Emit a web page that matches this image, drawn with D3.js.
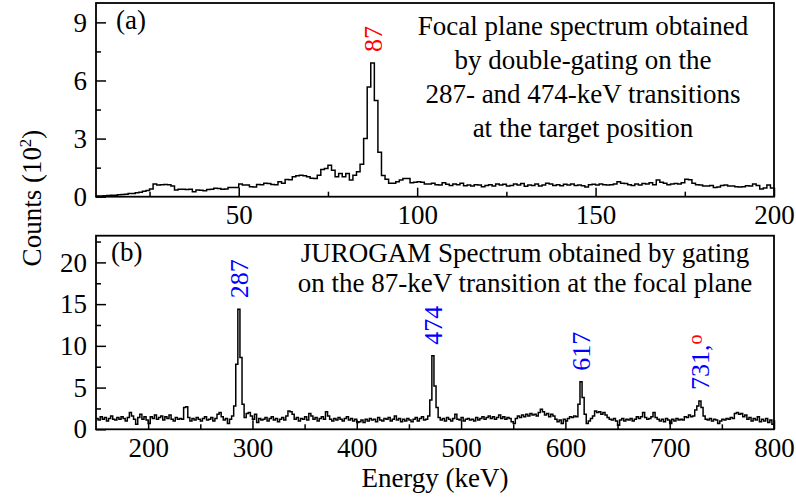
<!DOCTYPE html>
<html>
<head>
<meta charset="utf-8">
<script src="https://cdn.jsdelivr.net/npm/d3@7"></script>
<style>
  body { margin: 0; background: #fff; }
  svg { display: block; font-family: "Liberation Serif", "Times New Roman", serif; }
</style>
</head>
<body>
<div id="chart"></div>
<script>
// (a) focal plane spectrum: 1-keV bins from 10 keV, counts in units of 10^2
const fpStart = 10;
const fpBin = 1;
const fpCounts = [
  0.03, 0.04, 0.05, 0.06, 0.07, 0.08, 0.1, 0.11, 0.13, 0.16,
  0.17, 0.2, 0.23, 0.28, 0.32, 0.4, 0.66, 0.6, 0.62, 0.63,
  0.62, 0.55, 0.34, 0.38, 0.38, 0.37, 0.38, 0.26, 0.34, 0.33,
  0.31, 0.37, 0.38, 0.43, 0.42, 0.39, 0.4, 0.48, 0.47, 0.48,
  0.65, 0.6, 0.6, 0.52, 0.5, 0.63, 0.62, 0.69, 0.68, 0.63,
  0.62, 0.77, 0.7, 0.89, 0.88, 1.03, 1.08, 1.11, 1.08, 1.03,
  0.95, 0.94, 1.11, 1.4, 1.46, 1.63, 1.37, 1.03, 1.2, 1.03,
  1.2, 0.86, 1.11, 1.29, 1.68, 3.0, 5.66, 6.9, 4.97, 2.3,
  1.1, 0.9, 0.7, 0.69, 0.77, 0.86, 0.94, 0.94, 0.72, 0.75,
  0.77, 0.74, 0.65, 0.66, 0.7, 0.62, 0.6, 0.72, 0.64, 0.58,
  0.66, 0.62, 0.7, 0.56, 0.6, 0.55, 0.62, 0.6, 0.52, 0.58,
  0.62, 0.55, 0.66, 0.6, 0.64, 0.55, 0.58, 0.66, 0.6, 0.68,
  0.54, 0.6, 0.58, 0.65, 0.55, 0.6, 0.7, 0.66, 0.58, 0.62,
  0.56, 0.64, 0.6, 0.66, 0.58, 0.6, 0.56, 0.5, 0.62, 0.64,
  0.6, 0.65, 0.62, 0.6, 0.62, 0.65, 0.77, 0.7, 0.68, 0.62,
  0.58, 0.66, 0.6, 0.68, 0.66, 0.72, 0.62, 0.86, 0.75, 0.7,
  0.62, 0.66, 0.68, 0.66, 0.72, 0.9, 0.88, 0.7, 0.62, 0.6,
  0.55, 0.55, 0.58, 0.48, 0.5, 0.58, 0.6, 0.55, 0.55, 0.52,
  0.5, 0.52, 0.56, 0.55, 0.66, 0.58, 0.4, 0.45, 0.6, 0.45
];
const fpXDomain = [10, 200];
const fpYDomain = [0, 10];
const fpXTicks = [50, 100, 150, 200];
const fpXMinor = [25, 75, 125, 175];
const fpYTicks = [0, 3, 6, 9];
const fpYMinor = [1.5, 4.5, 7.5];
const fpPeaks = [{ label: "87", energy: 87, color: "#ff0000" }];
const fpNote = [
  "Focal plane spectrum obtained",
  "by double-gating on the",
  "287- and 474-keV transitions",
  "at the target position"
];

// (b) JUROGAM spectrum: 2-keV bins from 150 keV
const jgStart = 150;
const jgBin = 2;
const jgCounts = [
  1.3, 1.1, 1.5, 1.2, 1.4, 1.0, 1.3, 1.6, 1.2, 1.1,
  1.4, 1.2, 1.5, 1.3, 1.0, 1.4, 2.0, 1.6, 1.2, 0.6,
  1.4, 1.8, 1.2, 1.5, 1.1, 0.7, 1.5, 1.3, 1.7, 1.2,
  1.4, 1.6, 1.1, 1.5, 1.3, 1.7, 1.2, 1.0, 1.4, 1.2,
  1.3, 1.2, 2.6, 2.7, 1.4, 1.0, 1.3, 1.1, 1.4, 1.2,
  1.0, 1.3, 1.5, 1.1, 1.2, 1.4, 1.0, 1.3, 1.8, 2.0,
  1.5, 1.1, 1.3, 0.7, 1.2, 1.6, 2.8, 7.8, 14.4, 8.6,
  3.0, 1.4, 1.9, 2.0, 1.6, 1.2, 1.8, 0.8, 1.3, 1.1,
  1.2, 1.4, 1.0, 1.3, 1.5, 1.1, 1.3, 0.9, 1.2, 1.4,
  1.1, 1.6, 2.2, 2.1, 1.8, 1.2, 1.4, 1.0, 1.3, 1.2,
  1.5, 1.1, 1.9, 1.6, 1.2, 1.4, 1.0, 1.3, 1.5, 1.2,
  2.1, 1.6, 1.2, 1.0, 1.3, 1.1, 1.4, 1.2, 1.0, 1.3,
  1.5, 1.1, 1.3, 1.0, 1.2, 0.8, 0.9, 1.1, 0.8, 1.2,
  1.0, 1.3, 1.1, 1.2, 0.9, 1.4, 1.1, 1.0, 1.3, 1.2,
  1.4, 1.0, 1.2, 1.6, 1.1, 1.3, 0.9, 1.2, 1.0, 1.3,
  1.1, 0.9, 1.2, 1.4, 1.0, 1.3, 1.5, 1.1, 1.2, 1.6,
  3.5, 8.8, 5.2, 2.6, 1.4, 1.1, 1.3, 1.0, 1.4, 1.2,
  1.0, 1.3, 1.8, 1.2, 1.1, 1.4, 1.0, 1.2, 1.3, 1.1,
  1.2, 1.0, 1.4, 1.1, 1.3, 1.5, 1.2, 1.4, 1.6, 1.3,
  1.5, 1.2, 1.4, 1.7, 1.3, 1.5, 1.2, 1.4, 1.3, 0.9,
  0.7, 1.3, 1.6, 1.4, 1.7, 1.5, 1.8, 1.6, 1.9, 1.7,
  1.8, 1.6, 2.0, 2.4, 2.1, 1.7, 1.9, 1.5, 1.8, 1.6,
  1.2, 0.9, 1.1, 0.7, 1.2, 1.0, 1.3, 1.5, 1.4, 1.6,
  1.5, 3.0, 5.7, 3.8, 1.8, 0.7, 1.0, 1.3, 1.6, 2.2,
  2.0, 2.1, 1.8, 2.0, 1.7, 1.4, 1.2, 1.1, 1.3, 1.0,
  0.5, 1.1, 1.3, 1.0, 1.2, 1.1, 1.3, 1.0, 1.2, 1.5,
  1.3, 1.5, 2.0, 1.4, 1.2, 1.3, 1.5, 2.0, 1.4, 1.2,
  1.0, 1.2, 0.9, 1.3, 1.1, 0.7, 1.2, 1.0, 1.3, 1.1,
  1.2, 1.1, 1.5, 1.4, 1.7, 1.5, 1.6, 2.3, 2.8, 3.4,
  2.6, 1.6, 1.2, 1.1, 1.3, 1.0, 1.2, 1.1, 0.7, 1.0,
  1.2, 1.1, 1.3, 1.2, 1.4, 1.3, 1.9, 2.0, 1.8, 1.9,
  1.5, 1.7, 1.2, 1.4, 1.0, 1.3, 1.1, 1.5, 0.9, 1.2,
  1.0, 1.3, 0.8, 1.1, 0.6
];
const jgXDomain = [150, 800];
const jgYDomain = [0, 23.2];
const jgXTicks = [200, 300, 400, 500, 600, 700, 800];
const jgXMinor = [250, 350, 450, 550, 650, 750];
const jgYTicks = [0, 5, 10, 15, 20];
const jgYMinor = [2.5, 7.5, 12.5, 17.5, 22.5];
const jgPeaks = [
  { label: "287", energy: 287, color: "#0000ff" },
  { label: "474", energy: 474, color: "#0000ff" },
  { label: "617", energy: 617, color: "#0000ff" },
  { label: "731,", energy: 731, color: "#0000ff", mark: "o" }
];
const jgNote = [
  "JUROGAM Spectrum obtained by gating",
  "on the 87-keV transition at the focal plane"
];

const width = 796, height = 497;
const fontSize = 27;

const svg = d3.select("#chart").append("svg")
  .attr("width", width)
  .attr("height", height);

function drawPanel(p) {
  const x = d3.scaleLinear().domain(p.xDomain).range([96, 774]);
  const y = d3.scaleLinear().domain(p.yDomain).range([p.bottom, p.top]);
  const g = svg.append("g");

  // clip the spectrum to the frame
  g.append("clipPath").attr("id", p.id + "-clip")
    .append("rect")
    .attr("x", 96).attr("y", p.top)
    .attr("width", 678).attr("height", p.bottom - p.top);

  // step histogram, one point per bin edge
  const pts = p.counts.map((v, i) => [p.start + i * p.bin, v]);
  pts.push([p.start + p.counts.length * p.bin, p.counts[p.counts.length - 1]]);
  const line = d3.line()
    .x(d => x(d[0]))
    .y(d => y(d[1]))
    .curve(d3.curveStepAfter);

  g.append("path")
    .attr("d", line(pts))
    .attr("clip-path", `url(#${p.id}-clip)`)
    .attr("fill", "none")
    .attr("stroke", "#000")
    .attr("stroke-width", 1.5)
    .attr("stroke-linejoin", "miter");

  // ticks point inwards
  g.append("g")
    .attr("transform", `translate(0,${p.bottom})`)
    .call(d3.axisBottom(x).tickValues(p.xTicks).tickSize(-9).tickPadding(8.5));
  g.append("g")
    .attr("transform", `translate(0,${p.bottom})`)
    .call(d3.axisBottom(x).tickValues(p.xMinor).tickSize(-5).tickFormat(""));
  g.append("g")
    .attr("transform", "translate(96,0)")
    .call(d3.axisLeft(y).tickValues(p.yTicks).tickSize(-10).tickPadding(9));
  g.append("g")
    .attr("transform", "translate(96,0)")
    .call(d3.axisLeft(y).tickValues(p.yMinor).tickSize(-5).tickFormat(""));

  g.selectAll(".domain").remove();
  g.selectAll(".tick line").attr("stroke", "#000").attr("stroke-width", 1.5);
  g.selectAll(".tick text")
    .attr("font-family", "Liberation Serif, Times New Roman, serif")
    .attr("font-size", fontSize)
    .attr("fill", "#000");

  // frame
  g.append("rect")
    .attr("x", 96).attr("y", p.top)
    .attr("width", 678).attr("height", p.bottom - p.top)
    .attr("fill", "none")
    .attr("stroke", "#000")
    .attr("stroke-width", 1.8);

  // panel tag
  g.append("text")
    .attr("x", p.tagX).attr("y", p.tagY)
    .attr("font-size", fontSize)
    .text(p.tag);

  // description
  g.selectAll("text.note")
    .data(p.note)
    .enter()
    .append("text")
    .attr("class", "note")
    .attr("x", p.noteX)
    .attr("y", (d, i) => p.noteY + i * p.noteStep)
    .attr("text-anchor", "middle")
    .attr("font-size", fontSize)
    .text(d => d);

  // peak labels, placed just above the tallest bin near the quoted energy
  p.peaks.forEach(pk => {
    let best = -1;
    p.counts.forEach((v, i) => {
      const e = p.start + (i + 0.5) * p.bin;
      if (Math.abs(e - pk.energy) <= 4 && (best < 0 || v > p.counts[best])) best = i;
    });
    const cx = x(p.start + (best + 0.5) * p.bin) + 9;
    const cy = y(p.counts[best]) - 11;
    const t = g.append("text")
      .attr("transform", `translate(${cx},${cy}) rotate(-90)`)
      .attr("font-size", 26)
      .attr("fill", pk.color)
      .text(pk.label);
    if (pk.mark) {
      t.append("tspan")
        .attr("fill", "#ff0000")
        .attr("font-size", 20)
        .attr("dy", -7)
        .text(pk.mark);
    }
  });
}

drawPanel({
  id: "fp", top: 3, bottom: 196.7,
  xDomain: fpXDomain, yDomain: fpYDomain,
  start: fpStart, bin: fpBin, counts: fpCounts,
  xTicks: fpXTicks, xMinor: fpXMinor, yTicks: fpYTicks, yMinor: fpYMinor,
  peaks: fpPeaks, note: fpNote,
  tag: "(a)", tagX: 116, tagY: 29,
  noteX: 583, noteY: 35, noteStep: 34
});

drawPanel({
  id: "jg", top: 235.7, bottom: 429.3,
  xDomain: jgXDomain, yDomain: jgYDomain,
  start: jgStart, bin: jgBin, counts: jgCounts,
  xTicks: jgXTicks, xMinor: jgXMinor, yTicks: jgYTicks, yMinor: jgYMinor,
  peaks: jgPeaks, note: jgNote,
  tag: "(b)", tagX: 111, tagY: 261,
  noteX: 525, noteY: 262, noteStep: 30
});

// shared axis titles
const yTitle = svg.append("text")
  .attr("transform", "translate(41,198) rotate(-90)")
  .attr("text-anchor", "middle")
  .attr("font-size", fontSize);
yTitle.append("tspan").text("Counts (10");
yTitle.append("tspan").attr("font-size", 17).attr("dy", -10).text("2");
yTitle.append("tspan").attr("dy", 10).text(")");

svg.append("text")
  .attr("x", 435).attr("y", 487)
  .attr("text-anchor", "middle")
  .attr("font-size", fontSize)
  .text("Energy (keV)");
</script>
</body>
</html>
